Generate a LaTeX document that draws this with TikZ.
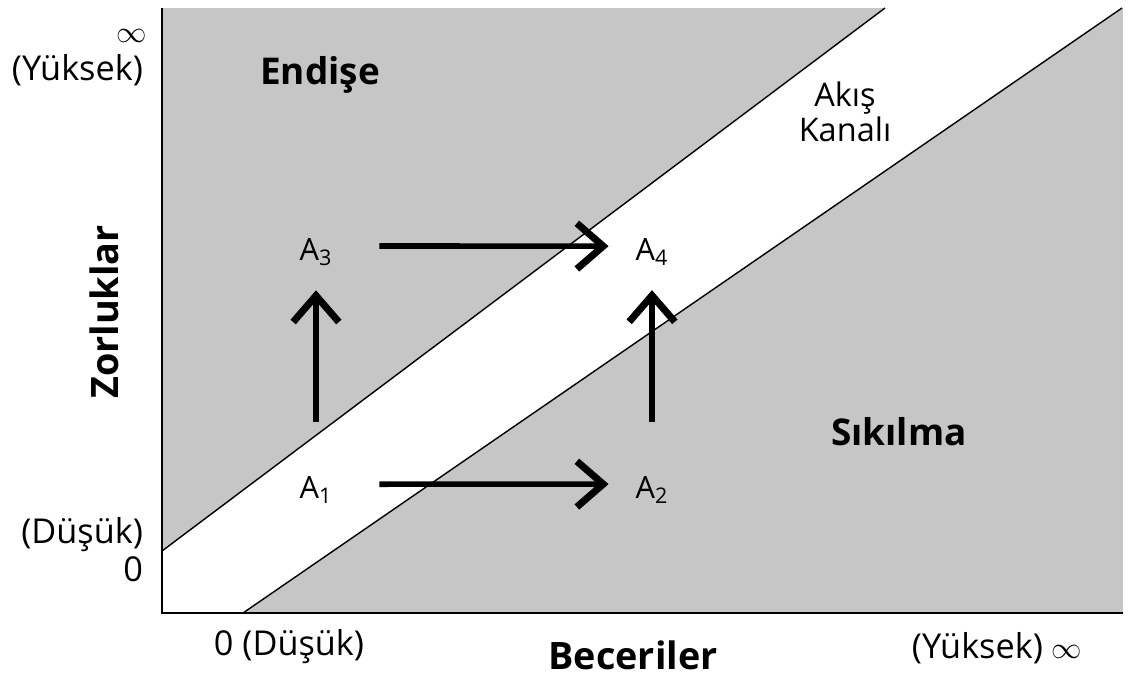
\documentclass[tikz,border=0pt]{standalone}
\usepackage{fontspec}
\setmainfont{Open Sans}
\usetikzlibrary{arrows.meta}
\definecolor{fGrey}{HTML}{C6C6C6}
\newcommand{\infsym}{{\fontsize{18}{20}\selectfont$\infty$}}

\begin{document}
\begin{tikzpicture}[x=0.02cm, y=-0.02cm,
  every node/.style={inner sep=1pt},
  axlbl/.style={font=\fontsize{19.5}{21}\selectfont},
  chanlbl/.style={font=\fontsize{18.5}{20}\selectfont, align=center},
  ptlbl/.style={font=\fontsize{17.5}{21}\selectfont},
  zone/.style={font=\fontsize{21}{25}\selectfont\bfseries},
  axtitle/.style={font=\fontsize{21.5}{25}\selectfont\bfseries},
  edge/.style={line width=0.8pt, black},
  axis/.style={line width=1.2pt, black},
  move/.style={-{Straight Barb[length=15pt, width=26pt, line width=4pt]}, line width=3.2pt}]
  \useasboundingbox (0,0) rectangle (1128,679);
  % zones and flow channel
  \fill[fGrey] (162,8) rectangle (1123,613);
  \fill[white] (162,551) -- (885,8) -- (1122,8) -- (243,613) -- (162,613) -- cycle;
  \draw[edge] (162,551) -- (885,8);
  \draw[edge] (243,613) -- (1122,8);
  % axes
  \draw[axis] (162,8) -- (162,613) -- (1123,613);
  % axis labels
  \node[axlbl] (yinf) at (132,36) {\infsym};
  \node[axlbl, anchor=east] (yhigh) at (145,70) {(Yüksek)};
  \node[axlbl, anchor=east] (ylow) at (145,535) {(Düşük)};
  \node[axlbl, anchor=east] (yzero) at (145,569) {0};
  \node[axlbl] (xlow) at (289,647) {0 (Düşük)};
  \node[axlbl] (xhigh) at (997,648) {(Yüksek) \infsym};
  \node[axtitle, rotate=90] (ytitle) at (104,312) {Zorluklar};
  \node[axtitle] (xtitle) at (633,655) {Beceriler};
  % regions
  \node[zone] (worry) at (320,75) {Endişe};
  \node[zone] (bored) at (899,432) {Sıkılma};
  \node[chanlbl] (chan) at (845,112) {Akış\\Kanalı};
  % states
  \node[ptlbl] (a1) at (316,490) {A\textsubscript{1}};
  \node[ptlbl] (a2) at (652,490) {A\textsubscript{2}};
  \node[ptlbl] (a3) at (316,252) {A\textsubscript{3}};
  \node[ptlbl] (a4) at (652,252) {A\textsubscript{4}};
  % moves
  \draw[move, shorten <=0.9cm, shorten >=0.5cm] ([yshift=5.5pt]a1.mid east) -- ([yshift=5.5pt]a2.mid west);
  \draw[move, shorten <=0.9cm, shorten >=0.5cm] ([yshift=5.5pt]a3.mid east) -- ([yshift=5.5pt]a4.mid west);
  \draw[move, shorten <=1.05cm, shorten >=0.45cm] (a1.north) -- (a3.south);
  \draw[move, shorten <=1.05cm, shorten >=0.45cm] (a2.north) -- (a4.south);
\end{tikzpicture}
\end{document}
